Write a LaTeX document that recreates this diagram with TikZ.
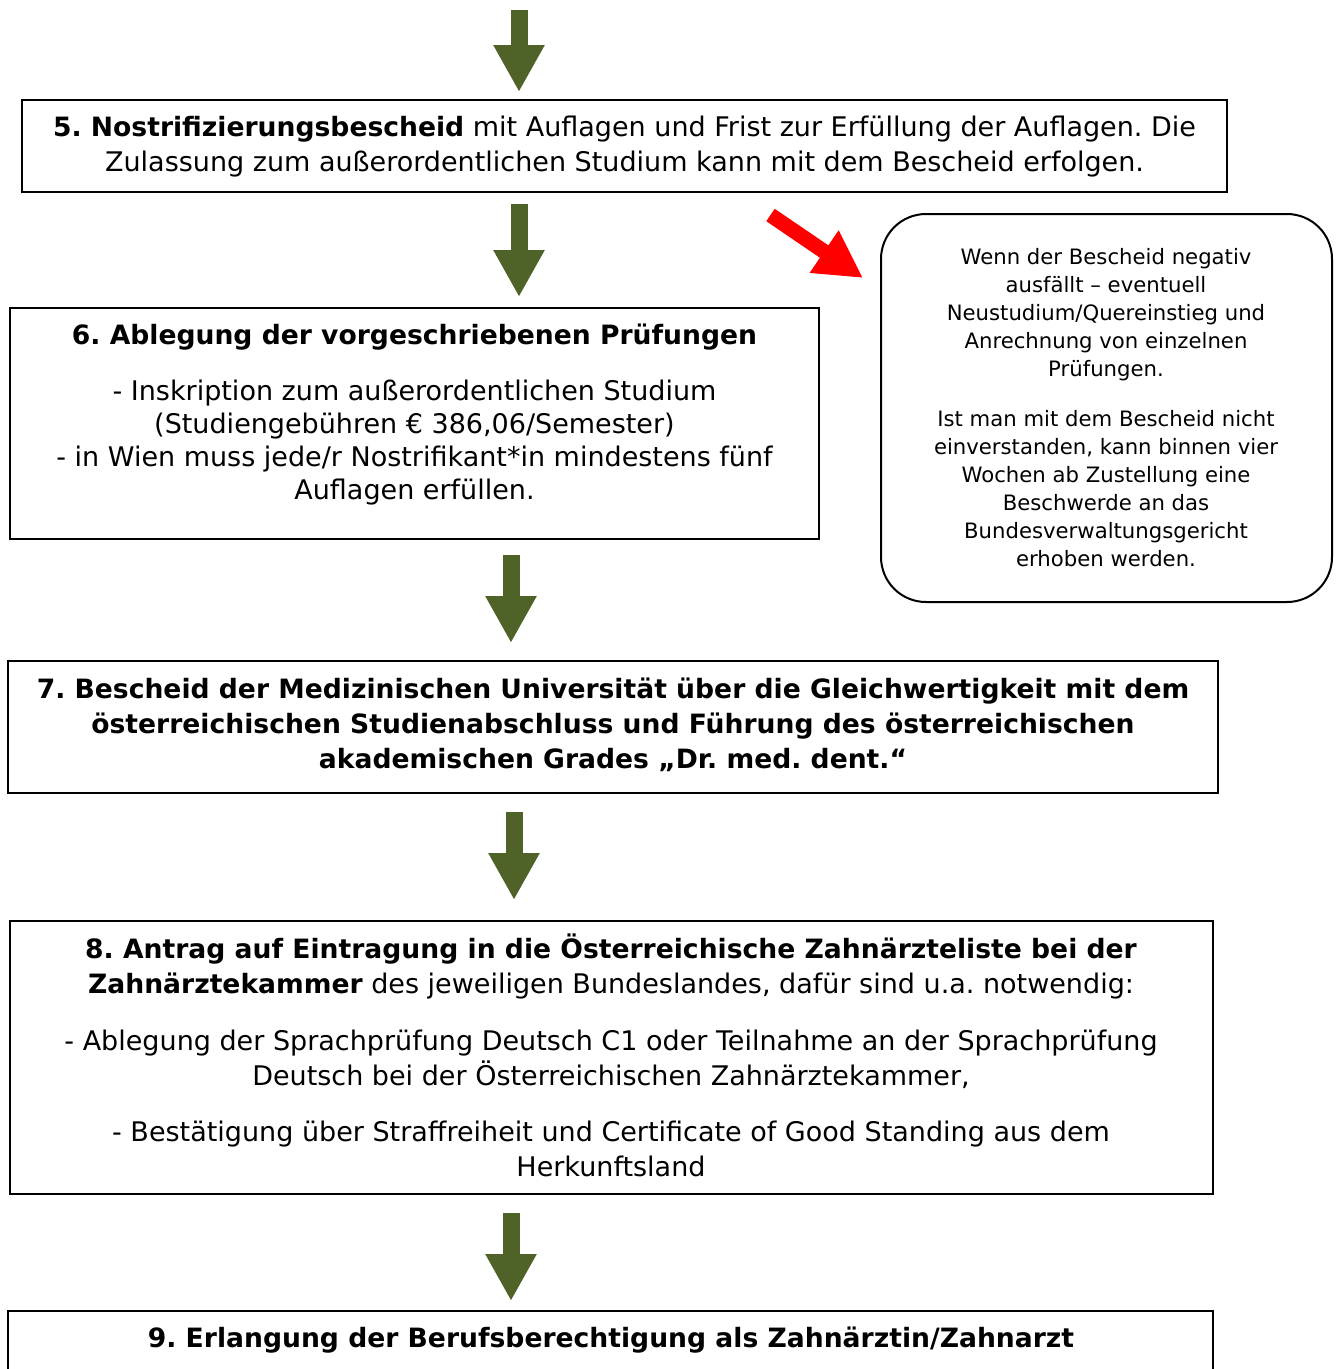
\documentclass[tikz,border=0pt]{standalone}
\usepackage{fontspec}
\setmainfont{DejaVu Sans}
\usetikzlibrary{arrows.meta}
\definecolor{olivegreen}{RGB}{79,98,40}
\definecolor{brightred}{RGB}{255,0,0}
\newcommand{\bt}[1]{{\fontsize{26.6}{35}\selectfont\bfseries #1}}
\begin{document}
\frenchspacing
\begin{tikzpicture}[x=1pt,y=-1pt,
  box/.style={draw=black, line width=2pt, inner sep=0pt},
  txt/.style={align=center, inner sep=0pt, font=\frenchspacing\fontsize{27}{35}\selectfont},
  smalltxt/.style={align=center, inner sep=0pt, font=\frenchspacing\fontsize{21.2}{28}\selectfont},
  downarrow/.style={draw=olivegreen, fill=olivegreen, line width=17pt, -{Triangle[width=48pt,length=47pt]}},
  redarrow/.style={draw=brightred, fill=brightred, line width=15pt, -{Triangle[width=48pt,length=47pt]}}]
\clip (0,0) rectangle (1341,1369);
\fill[white] (0,0) rectangle (1341,1369);

% boxes
\node[box, minimum width=1205pt, minimum height=92pt] (box5) at (624.5,146) {};
\node[box, minimum width=809pt, minimum height=231pt] (box6) at (414.5,423.5) {};
\node[box, rounded corners=45pt, minimum width=451pt, minimum height=388pt] (rbox) at (1106.5,408) {};
\node[box, minimum width=1210pt, minimum height=132pt] (box7) at (613,727) {};
\node[box, minimum width=1203pt, minimum height=273pt] (box8) at (611.5,1057.5) {};
\node[box, minimum width=1205pt, minimum height=109pt] (box9) at (610.5,1365.5) {};

% texts
\node[txt] (t5) at (624.5,146.5) {\bt{5. Nostrifizierungsbescheid} mit Auflagen und Frist zur Erfüllung der Auflagen. Die\\Zulassung zum außerordentlichen Studium kann mit dem Bescheid erfolgen.};
\node[txt, font=\frenchspacing\fontsize{27}{33}\selectfont] (t6) at (414.5,415) {\bt{6. Ablegung der vorgeschriebenen Prüfungen}\\[23pt]- Inskription zum außerordentlichen Studium\\(Studiengebühren € 386,06/Semester)\\- in Wien muss jede/r Nostrifikant*in mindestens fünf\\Auflagen erfüllen.};
\node[smalltxt] (rt) at (1106,408) {Wenn der Bescheid negativ\\ausfällt – eventuell\\Neustudium/Quereinstieg und\\Anrechnung von einzelnen\\Prüfungen.\\[22pt]Ist man mit dem Bescheid nicht\\einverstanden, kann binnen vier\\Wochen ab Zustellung eine\\Beschwerde an das\\Bundesverwaltungsgericht\\erhoben werden.};
\node[txt] (t7) at (613,725) {\bt{7. Bescheid der Medizinischen Universität über die Gleichwertigkeit mit dem}\\\bt{österreichischen Studienabschluss und Führung des österreichischen}\\\bt{akademischen Grades „Dr. med. dent.“}};
\node[txt] (t8) at (611,1055) {\bt{8. Antrag auf Eintragung in die Österreichische Zahnärzteliste bei der}\\\bt{Zahnärztekammer} des jeweiligen Bundeslandes, dafür sind u.a. notwendig:\\[22pt]- Ablegung der Sprachprüfung Deutsch C1 oder Teilnahme an der Sprachprüfung\\Deutsch bei der Österreichischen Zahnärztekammer,\\[21pt]- Bestätigung über Straffreiheit und Certificate of Good Standing aus dem\\Herkunftsland};
\node[txt] (t9) at (611,1340) {\bt{9. Erlangung der Berufsberechtigung als Zahnärztin/Zahnarzt}};

% arrows
\coordinate (top) at (519,10);
\draw[downarrow] (top) -- ([xshift=-105.5pt,yshift=7pt]box5.north);
\draw[downarrow] ([xshift=-105.5pt,yshift=-11pt]box5.south) -- ([xshift=104.5pt,yshift=10pt]box6.north);
\draw[downarrow] ([xshift=96.5pt,yshift=-15pt]box6.south) -- ([xshift=-102pt,yshift=17pt]box7.north);
\draw[downarrow] ([xshift=-99pt,yshift=-18pt]box7.south) -- ([xshift=-97.5pt,yshift=20pt]box8.north);
\draw[downarrow] ([xshift=-100.5pt,yshift=-18pt]box8.south) -- ([xshift=-99.5pt,yshift=9pt]box9.north);

\coordinate (rs) at (770.5,215);
\coordinate (rtip) at (863,278);
\draw[redarrow] (rs) -- (rtip);
\end{tikzpicture}
\end{document}
